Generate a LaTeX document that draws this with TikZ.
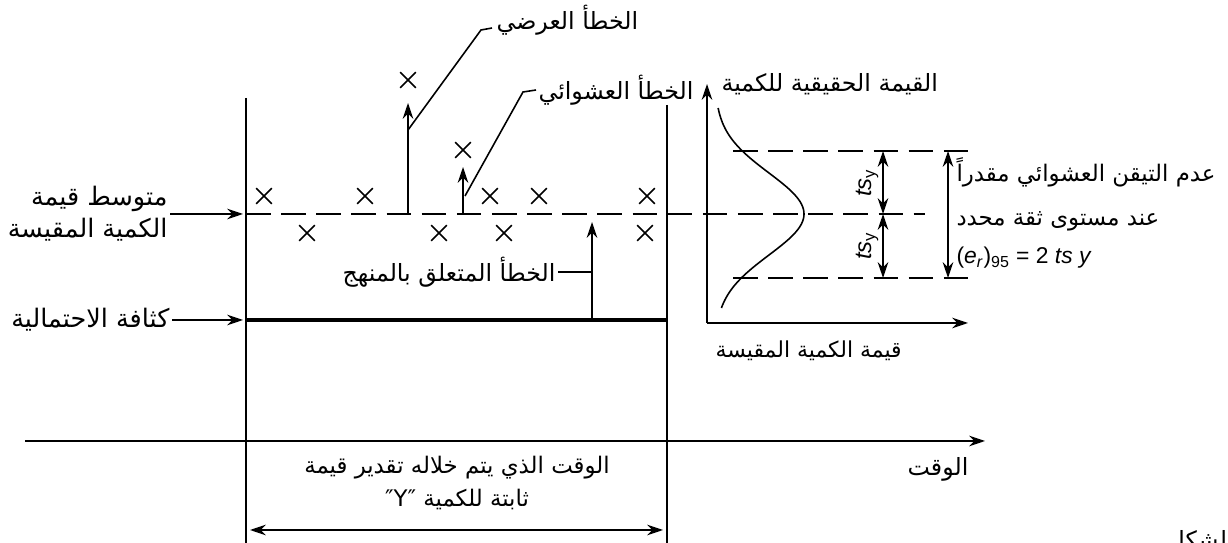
\documentclass[tikz,border=0pt]{standalone}
\usepackage{fontspec}
\setmainfont{Liberation Sans}
\newfontfamily\arabicfont[Script=Arabic]{DejaVu Sans}
\TeXXeTstate=1
\usetikzlibrary{arrows.meta,shapes.misc}
\newcommand{\artxt}[1]{{\arabicfont\beginR #1\endR}}

\begin{document}
\begin{tikzpicture}[
  x=0.02cm, y=-0.02cm,
  font=\fontsize{13.5}{16}\selectfont,
  line width=0.9pt,
  arrow/.style={-{Stealth[length=9pt,width=6pt]}},
  twoway/.style={{Stealth[length=9pt,width=6pt]}-{Stealth[length=9pt,width=6pt]}},
  meanline/.style={dash pattern=on 14pt off 6pt},
  xmark/.style={draw, cross out, minimum size=8pt, inner sep=0pt},
  lbl/.style={inner sep=1pt},
  biglbl/.style={inner sep=1pt, font=\fontsize{14.5}{18}\selectfont},
  unclbl/.style={inner sep=1pt, anchor=west, font=\fontsize{13}{16}\selectfont}
]
\useasboundingbox (0,0) rectangle (1228,543);

% frame of the observation period
\coordinate (lt) at (246,98);
\coordinate (lb) at (246,560);
\coordinate (rt) at (667,105);
\coordinate (rb) at (667,560);
\draw (lt) -- (lb);
\draw (rt) -- (rb);

% mean value and density lines
\coordinate (m0) at (246,214);
\coordinate (m1) at (925,214);
\draw[meanline] (m0) -- (m1);
\coordinate (d0) at (246,320);
\coordinate (d1) at (667,320);
\draw[line width=2pt] (d0) -- (d1);

\node[biglbl, anchor=east, align=right] (mean) at (170,214) {\artxt{متوسط قيمة}\\\artxt{الكمية المقيسة}};
\coordinate (meantip) at (243,214);
\draw[arrow] (mean.east) -- (meantip);
\node[biglbl, anchor=east] (dens) at (172,320) {\artxt{كثافة الاحتمالية}};
\coordinate (denstip) at (243,320);
\draw[arrow] (dens.east) -- (denstip);

% measured points
\foreach \px/\py [count=\i] in {264/196, 365/196, 490/196, 539/196, 647/196,
    307/233, 439/233, 504/233, 645/233, 408/80, 463/150}
  \node[xmark] (pt\i) at (\px,\py) {};

% gross error
\coordinate (g0) at (408,214);
\coordinate (g1) at (408,103);
\draw[arrow] (g0) -- (g1);
\node[lbl, anchor=west] (gross) at (494,20) {\artxt{الخطأ العرضي}};
\coordinate (gk) at (481,30);
\coordinate (ge) at (492,28);
\draw (408,130) -- (gk) -- (ge);

% random error
\coordinate (r0) at (463,214);
\coordinate (r1) at (463,167);
\draw[arrow] (r0) -- (r1);
\node[lbl, anchor=west] (rand) at (536,90) {\artxt{الخطأ العشوائي}};
\coordinate (rk) at (523,92);
\draw (465,196) -- (rk) -- (rand.west);

% systematic error
\coordinate (s0) at (592,320);
\coordinate (s1) at (592,222);
\draw[arrow] (s0) -- (s1);
\node[lbl, anchor=east] (syst) at (558,272) {\artxt{الخطأ المتعلق بالمنهج}};
\draw (syst.east) -- (592,272);

% distribution of the measured value
\coordinate (o) at (707,323);
\coordinate (yax) at (707,84);
\coordinate (xax) at (968,323);
\draw[arrow] (o) -- (yax);
\draw[arrow] (o) -- (xax);
\node[lbl, anchor=west] (truev) at (719,84) {\artxt{القيمة الحقيقية للكمية}};
\node[lbl, anchor=west, font=\fontsize{12.5}{15}\selectfont] (measv) at (713,351) {\artxt{قيمة الكمية المقيسة}};
\draw[domain=108:308, samples=80, smooth, variable=\t]
  plot ({715+89*exp(-((\t-214)/41)^2/2)}, \t);
\coordinate (u0) at (733,151);
\coordinate (u1) at (975,151);
\coordinate (b0) at (733,278);
\coordinate (b1) at (975,278);
\draw[meanline] (u0) -- (u1);
\draw[meanline] (b0) -- (b1);

\coordinate (tu) at (883,151);
\coordinate (tm) at (883,214);
\coordinate (tb) at (883,278);
\draw[twoway] (tu) -- (tm);
\draw[twoway] (tm) -- (tb);
\node[lbl, rotate=90] (tsup) at (867,183) {\textit{ts}\textsubscript{y}};
\node[lbl, rotate=90] (tsdn) at (867,246) {\textit{ts}\textsubscript{y}};
\coordinate (eu) at (948,151);
\coordinate (eb) at (948,278);
\draw[twoway] (eu) -- (eb);

\node[unclbl] (unc1) at (954,172) {\artxt{عدم التيقن العشوائي مقدراً}};
\node[unclbl] (unc2) at (954,221) {\artxt{عند مستوى ثقة محدد}};
\node[unclbl] (unc3) at (954,258) {(\textit{e}\textsubscript{\textit{r}})\textsubscript{95} = 2 \textit{ts y}};

% time axis
\coordinate (t0) at (25,441);
\coordinate (t1) at (985,441);
\draw[arrow] (t0) -- (t1);
\node[lbl] (time) at (938,469) {\artxt{الوقت}};
\node[lbl, align=center, font=\fontsize{13}{16}\selectfont] (span) at (457,483) {\artxt{الوقت الذي يتم خلاله تقدير قيمة}\\[3pt]\artxt{ثابتة للكمية ″Y″}};
\coordinate (w0) at (250,530);
\coordinate (w1) at (663,530);
\draw[twoway] (w0) -- (w1);
\node[lbl, anchor=west] (fig) at (1165,541) {\artxt{الشكل}};
\end{tikzpicture}
\end{document}
